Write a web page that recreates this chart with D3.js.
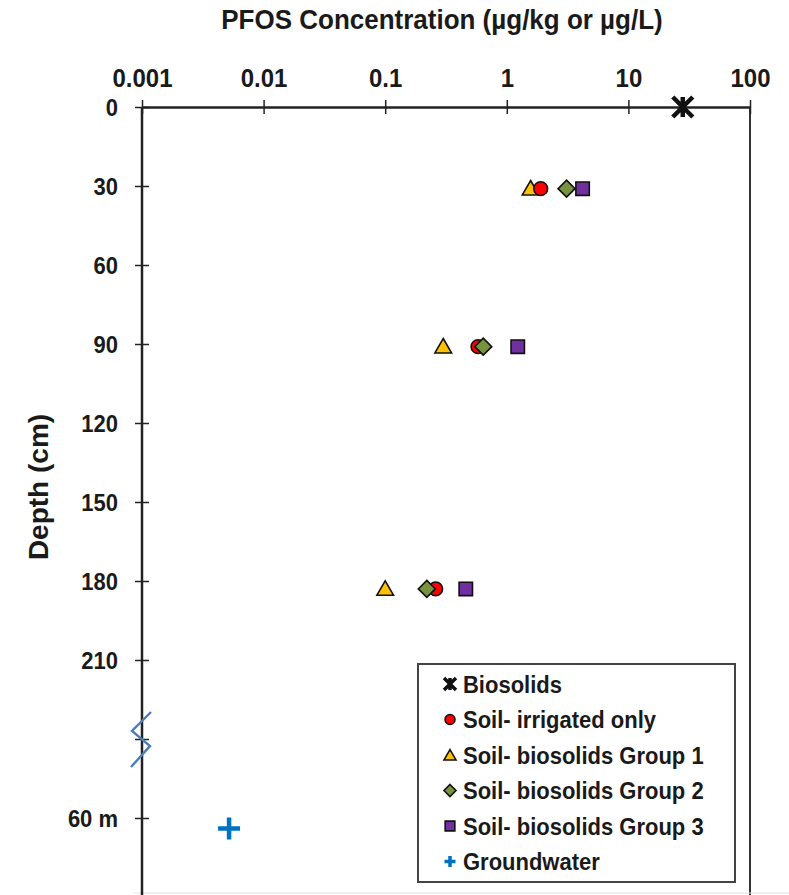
<!DOCTYPE html>
<html>
<head>
<meta charset="utf-8">
<script src="https://cdn.jsdelivr.net/npm/d3@7"></script>
<style>
  body { margin: 0; background: #fff; }
  svg text { font-family: "Liberation Sans", Arial, sans-serif; fill: #1a1a1a; }
</style>
</head>
<body>
<div id="chart"></div>
<script>
// depths (cm) of the soil samples
var depths = [31, 91, 183];
var irrigated = [1.9, 0.58, 0.26];
var group1 = [1.57, 0.3, 0.1];
var group2 = [3.1, 0.64, 0.22];
var group3 = [4.2, 1.23, 0.46];
var biosolids = [{depth: 0, value: 28}];
// groundwater sits below the axis break (60 m), plotted just under the "60 m" tick
var groundwater = [{depth: 274, value: 0.0052}];

var xTicks = [0.001, 0.01, 0.1, 1, 10, 100];
var xTickLabels = ["0.001", "0.01", "0.1", "1", "10", "100"];
var yTicks = [0, 30, 60, 90, 120, 150, 180, 210, 240, 270];
var yTickLabels = ["0", "30", "60", "90", "120", "150", "180", "210", "", "60 m"];
var breakDepth = 240;

var W = 789, H = 895;
var svg = d3.select("#chart").append("svg").attr("width", W).attr("height", H);

var x = d3.scaleLog().domain([0.001, 100]).range([142, 750]);
var y = d3.scaleLinear().domain([0, 300]).range([107, 897]);

// text in the source is a little taller than wide, stretch around its anchor
function stretch(sel, k){
  sel.each(function(){
    var t = d3.select(this);
    var tx = +t.attr("x") || 0, ty = +t.attr("y") || 0;
    t.attr("transform", "translate(" + tx + "," + ty + ") scale(1," + k + ") translate(" + (-tx) + "," + (-ty) + ")");
  });
}

// title
svg.append("text").attr("x", 442).attr("y", 29).attr("text-anchor", "middle")
  .style("font-size", "26px").style("font-weight", "bold")
  .text("PFOS Concentration (µg/kg or µg/L)")
  .call(stretch, 1.08);

// y title
svg.append("text").attr("transform", "translate(48,487) rotate(-90)").attr("text-anchor", "middle")
  .style("font-size", "28px").style("font-weight", "bold")
  .text("Depth (cm)");

// plot frame: right border and faint bottom
svg.append("line").attr("x1", 750).attr("x2", 750).attr("y1", y(0)).attr("y2", H)
  .attr("stroke", "#333").attr("stroke-width", 2);
svg.append("line").attr("x1", 134).attr("x2", W).attr("y1", 893).attr("y2", 893)
  .attr("stroke", "#e4e4e4").attr("stroke-width", 1);

// top axis
var xAxis = d3.axisTop(x).tickValues(xTicks).tickFormat(function(d, i){ return xTickLabels[i]; })
  .tickSizeOuter(0);
var gx = svg.append("g").attr("transform", "translate(0," + y(0) + ")").call(xAxis);
gx.select(".domain").attr("stroke", "#222").attr("stroke-width", 2.5);
gx.selectAll(".tick line").attr("y1", -7).attr("y2", 7).attr("stroke", "#222").attr("stroke-width", 1.5);
gx.selectAll(".tick text").attr("y", -20).attr("dy", 0)
  .style("font-size", "24px").style("font-weight", "bold").attr("fill", "#1a1a1a")
  .call(stretch, 1.1);

// left axis
var yAxis = d3.axisLeft(y).tickValues(yTicks).tickFormat(function(d, i){ return yTickLabels[i]; })
  .tickSizeOuter(0);
var gy = svg.append("g").attr("transform", "translate(" + x(0.001) + ",0)").call(yAxis);
gy.select(".domain").attr("d", "M0," + y(0) + "V" + H).attr("stroke", "#222").attr("stroke-width", 2.5);
gy.selectAll(".tick line").attr("x1", -7).attr("x2", 7).attr("stroke", "#222").attr("stroke-width", 1.5);
gy.selectAll(".tick text").attr("x", -24).attr("y", 0).attr("dy", "0.36em")
  .style("font-size", "22px").style("font-weight", "bold").attr("fill", "#1a1a1a")
  .call(stretch, 1.1);

// axis break zigzag
var bx = x(0.001), by = y(breakDepth);
svg.append("path")
  .attr("d", d3.line()([[bx + 9, by - 27], [bx - 10, by - 8], [bx + 8, by + 7], [bx - 11, by + 28]]))
  .attr("fill", "none").attr("stroke", "#4a7ebb").attr("stroke-width", 2.4);

// marker shapes
function starPath(r){
  var p = d3.path();
  p.moveTo(-r, -r); p.lineTo(r, r);
  p.moveTo(r, -r); p.lineTo(-r, r);
  p.moveTo(0, -r); p.lineTo(0, r);
  return p.toString();
}
function plusPath(r){
  var p = d3.path();
  p.moveTo(-r, 0); p.lineTo(r, 0);
  p.moveTo(0, -r); p.lineTo(0, r);
  return p.toString();
}
function diamondPath(r){
  var p = d3.path();
  p.moveTo(0, -r); p.lineTo(r, 0); p.lineTo(0, r); p.lineTo(-r, 0); p.closePath();
  return p.toString();
}

var series = [
  {name: "Biosolids", kind: "star", color: "#111", key: "bio"},
  {name: "Soil- irrigated only", kind: "circle", color: "#ff0000", values: irrigated},
  {name: "Soil- biosolids Group 1", kind: "triangle", color: "#ffc000", values: group1},
  {name: "Soil- biosolids Group 2", kind: "diamond", color: "#77933c", values: group2},
  {name: "Soil- biosolids Group 3", kind: "square", color: "#7030a0", values: group3},
  {name: "Groundwater", kind: "plus", color: "#0070c0", key: "gw"}
];

function drawMarker(g, s, big){
  var k = big ? 1 : 0.72;
  if (s.kind === "star") {
    g.append("path").attr("d", starPath(big ? 10 : 6)).attr("stroke", s.color)
      .attr("stroke-width", big ? 4.5 : 3.5).attr("fill", "none");
  } else if (s.kind === "plus") {
    g.append("path").attr("d", plusPath(big ? 11 : 5.5)).attr("stroke", s.color)
      .attr("stroke-width", big ? 4.5 : 3.5).attr("fill", "none");
  } else if (s.kind === "diamond") {
    g.append("path").attr("d", diamondPath(big ? 8.5 : 6))
      .attr("fill", s.color).attr("stroke", "#111").attr("stroke-width", 1.6);
  } else {
    var type = {circle: d3.symbolCircle, triangle: d3.symbolTriangle, square: d3.symbolSquare}[s.kind];
    var size = {circle: 150, triangle: 120, square: 180}[s.kind] * k * k;
    g.append("path").attr("d", d3.symbol().type(type).size(size)())
      .attr("transform", s.kind === "triangle" ? "translate(0,1.5)" : null)
      .attr("fill", s.color).attr("stroke", "#111").attr("stroke-width", 1.6);
  }
}

// points (triangle first so circle overlays it, then diamonds and squares)
var drawOrder = [0, 2, 1, 3, 4, 5];
drawOrder.forEach(function(i){
  var s = series[i];
  var pts;
  if (s.key === "bio") pts = biosolids;
  else if (s.key === "gw") pts = groundwater;
  else pts = s.values.map(function(v, j){ return {depth: depths[j], value: v}; });
  pts.forEach(function(p){
    var g = svg.append("g").attr("transform", "translate(" + x(p.value) + "," + y(p.depth) + ")");
    drawMarker(g, s, true);
  });
});

// legend
var lg = svg.append("g").attr("transform", "translate(418,664)");
lg.append("rect").attr("width", 317).attr("height", 218).attr("fill", "#fff")
  .attr("stroke", "#444").attr("stroke-width", 2);
series.forEach(function(s, i){
  var row = lg.append("g").attr("transform", "translate(32," + (20 + i * 35.5) + ")");
  drawMarker(row, s, false);
  row.append("text").attr("x", 13).attr("y", 0).attr("dy", "0.36em")
    .style("font-size", "22px").style("font-weight", "bold").text(s.name)
    .call(stretch, 1.1);
});
</script>
</body>
</html>
